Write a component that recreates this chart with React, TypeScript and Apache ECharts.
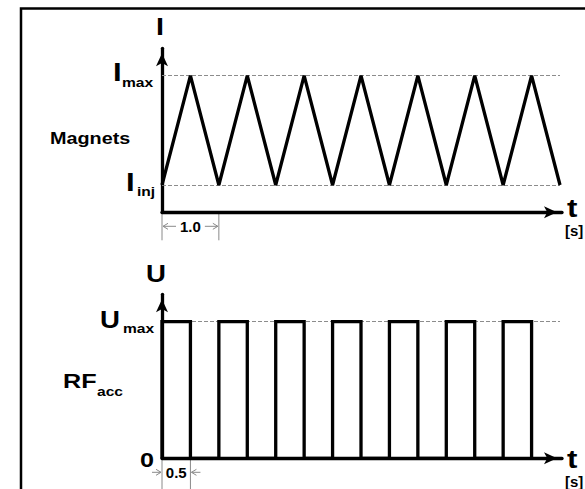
import React, { useEffect, useRef } from "react";
import * as echarts from "echarts";

// Magnet current: linear ramps between injection and maximum current
const magnetTime = [0, 0.5, 1, 1.5, 2, 2.5, 3, 3.5, 4, 4.5, 5, 5.5, 6, 6.5, 7];
const magnetCurrent = [1, 5, 1, 5, 1, 5, 1, 5, 1, 5, 1, 5, 1, 5, 1];

// RF accelerating voltage: rectangular pulses of 0.5 s every second
const rfTime = [
  0, 0, 0.5, 0.5, 1, 1, 1.5, 1.5, 2, 2, 2.5, 2.5, 3, 3, 3.5, 3.5, 4, 4, 4.5, 4.5,
  5, 5, 5.5, 5.5, 6, 6, 6.5, 6.5,
];
const rfVoltage = [
  0, 5, 5, 0, 0, 5, 5, 0, 0, 5, 5, 0, 0, 5, 5, 0, 0, 5, 5, 0, 0, 5, 5, 0, 0, 5, 5, 0,
];

// Reference levels and time span
const I_INJ = 1;
const I_MAX = 5;
const U_MAX = 5;
const U_ZERO = 0;
const T_END = 7;

// Axis extents
const T_AXIS_MAX = 7.035;
const LEVEL_AXIS_MAX = 6;

// Dimension annotations (start, end, label)
const rampSpan = [0, 1];
const rampLabel = "1.0";
const pulseSpan = [0, 0.5];
const pulseLabel = "0.5";

const FONT = '"Liberation Sans", Arial, Helvetica, sans-serif';
const GRAY = "#8a8a8a";

const axisLine = {
  show: true,
  symbol: ["none", "arrow"],
  symbolSize: [9, 13],
  symbolOffset: [0, -5],
  lineStyle: { color: "#000", width: 3.3 },
};

const bareAxis = (extra: any) => ({
  type: "value",
  axisLine,
  axisTick: { show: false },
  axisLabel: { show: false },
  splitLine: { show: false },
  ...extra,
});

const dashed = {
  silent: true,
  z: 1,
  symbol: ["none", "none"],
  label: { show: false },
  lineStyle: { type: [4, 2], color: "#8c8c8c", width: 1 },
};

function text(
  str: string,
  x: number,
  y: number,
  size: number,
  align = "left",
  scaleX = 1.2
) {
  return {
    type: "text",
    x,
    y,
    scaleX,
    silent: true,
    style: {
      text: str,
      fill: "#000",
      fontSize: size,
      fontWeight: "bold",
      fontFamily: FONT,
      align,
      textAlign: align,
      verticalAlign: "middle",
      textVerticalAlign: "middle",
    },
  };
}

function seg(x1: number, y1: number, x2: number, y2: number, color = GRAY) {
  return {
    type: "line",
    silent: true,
    shape: { x1, y1, x2, y2 },
    style: { stroke: color, lineWidth: 1 },
  };
}

// Small dimension arrow with an open chevron head at (hx, y)
function dimArrow(tx: number, hx: number, y: number) {
  const dir = hx > tx ? 1 : -1;
  return [
    seg(tx, y, hx, y),
    {
      type: "polyline",
      silent: true,
      shape: {
        points: [
          [hx - dir * 5, y - 3],
          [hx, y],
          [hx - dir * 5, y + 3],
        ],
      },
      style: { stroke: GRAY, lineWidth: 1, fill: "none" },
    },
  ];
}

export default function App() {
  const ref = useRef<HTMLDivElement>(null);

  useEffect(() => {
    if (!ref.current) return;
    const chart = echarts.init(ref.current, undefined, { renderer: "svg" });

    chart.setOption({
      animation: false,
      grid: [
        { left: 162, top: 48.3, width: 400, height: 164 },
        { left: 162, top: 294.3, width: 400, height: 164 },
      ],
      xAxis: [
        bareAxis({ gridIndex: 0, min: 0, max: T_AXIS_MAX }),
        bareAxis({ gridIndex: 1, min: 0, max: T_AXIS_MAX }),
      ],
      yAxis: [
        bareAxis({ gridIndex: 0, min: 0, max: LEVEL_AXIS_MAX }),
        bareAxis({ gridIndex: 1, min: 0, max: LEVEL_AXIS_MAX }),
      ],
      series: [
        {
          name: "Magnets",
          type: "line",
          xAxisIndex: 0,
          yAxisIndex: 0,
          data: magnetTime.map((t, i) => [t, magnetCurrent[i]]),
          symbol: "none",
          clip: false,
          lineStyle: { color: "#000", width: 3.3, join: "bevel" },
          z: 3,
          markLine: {
            ...dashed,
            data: [
              [{ coord: [0, I_MAX] }, { coord: [T_END, I_MAX] }],
              [{ coord: [0, I_INJ] }, { coord: [T_END, I_INJ] }],
            ],
          },
        },
        {
          name: "RF acc",
          type: "line",
          xAxisIndex: 1,
          yAxisIndex: 1,
          data: rfTime.map((t, i) => [t, rfVoltage[i]]),
          symbol: "none",
          clip: false,
          lineStyle: { color: "#000", width: 3.3, join: "miter" },
          z: 3,
          markLine: {
            ...dashed,
            data: [[{ coord: [0, U_MAX] }, { coord: [T_END, U_MAX] }]],
          },
        },
      ],
    });

    const p0 = (x: number, y: number) =>
      chart.convertToPixel({ gridIndex: 0 }, [x, y]) as number[];
    const p1 = (x: number, y: number) =>
      chart.convertToPixel({ gridIndex: 1 }, [x, y]) as number[];

    const origin1 = p1(0, U_ZERO);
    const axTop0 = p0(0, LEVEL_AXIS_MAX);
    const axTop1 = p1(0, LEVEL_AXIS_MAX);
    const axEnd0 = p0(T_AXIS_MAX, 0);
    const axEnd1 = p1(T_AXIS_MAX, 0);
    const imax = p0(0, I_MAX);
    const iinj = p0(0, I_INJ);
    const umax = p1(0, U_MAX);
    const magMid = p0(0, (I_MAX + I_INJ) / 2);
    const rfMid = p1(0, (U_MAX + U_ZERO) / 2);

    const r0 = p0(rampSpan[0], 0);
    const r1 = p0(rampSpan[1], 0);
    const q0 = p1(pulseSpan[0], 0);
    const q1 = p1(pulseSpan[1], 0);
    const rY = r0[1] + 14;
    const qY = q0[1] + 14;

    const graphic: any[] = [
      {
        type: "rect",
        silent: true,
        shape: { x: 21, y: 8.5, width: 640, height: 540 },
        style: { fill: "none", stroke: "#000", lineWidth: 2.5 },
      },
      // axis names
      text("I", axTop0[0] - 2, axTop0[1] - 21, 24, "center"),
      text("U", axTop1[0] - 6, axTop1[1] - 20, 23, "center"),
      text("t", axEnd0[0] + 5, axEnd0[1] - 4.5, 26),
      text("[s]", axEnd0[0] + 3, axEnd0[1] + 18, 15, "left", 1),
      text("t", axEnd1[0] + 5, axEnd1[1] + 1, 26),
      text("[s]", axEnd1[0] + 3, axEnd1[1] + 23, 15, "left", 1),
      // level labels
      text("I", imax[0] - 49, imax[1] - 3.5, 26),
      text("max", imax[0] - 40, imax[1] + 6.5, 13),
      text("I", iinj[0] - 36, iinj[1] - 3, 26),
      text("inj", iinj[0] - 25, iinj[1] + 6.5, 13),
      text("U", umax[0] - 62, umax[1] - 2, 23),
      text("max", umax[0] - 39, umax[1] + 6.5, 13),
      text("0", origin1[0] - 22, origin1[1] + 1, 21),
      // trace names
      text("Magnets", magMid[0] - 112, magMid[1] + 8, 16.5),
      text("RF", rfMid[0] - 99, rfMid[1] - 9.5, 21),
      text("acc", rfMid[0] - 65, rfMid[1] + 2, 13),
      // ramp period dimension
      seg(r0[0], r0[1] + 1.5, r0[0], r0[1] + 28),
      seg(r1[0], r1[1] + 1.5, r1[0], r1[1] + 28),
      ...dimArrow(r0[0] + 14, r0[0] + 1, rY),
      ...dimArrow(r1[0] - 14, r1[0] - 1, rY),
      text(rampLabel, (r0[0] + r1[0]) / 2, rY, 15, "center", 1),
      // pulse width dimension
      seg(q0[0], q0[1] + 1.5, q0[0], q0[1] + 40),
      seg(q1[0], q1[1] + 1.5, q1[0], q1[1] + 40),
      ...dimArrow(q0[0] - 10, q0[0] - 1, qY),
      ...dimArrow(q1[0] + 10, q1[0] + 1, qY),
      text(pulseLabel, (q0[0] + q1[0]) / 2, qY, 15, "center", 1),
    ];

    chart.setOption({ graphic });

    return () => chart.dispose();
  }, []);

  return (
    <div
      ref={ref}
      style={{
        position: "fixed",
        left: 0,
        top: 0,
        width: 585,
        height: 489,
        background: "#fff",
      }}
    />
  );
}
